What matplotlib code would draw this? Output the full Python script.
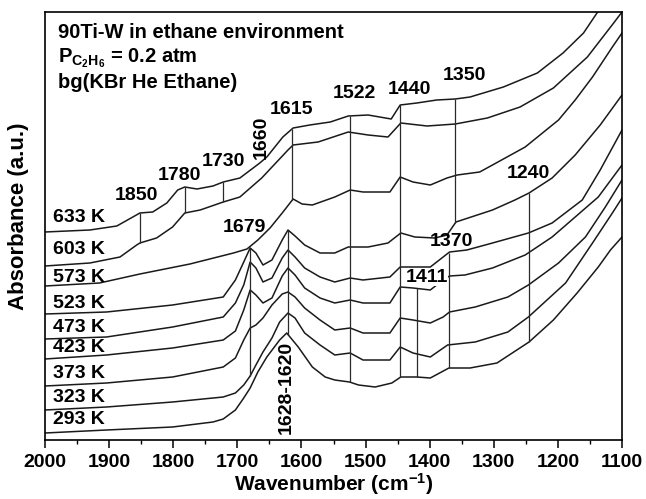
import numpy as np
import matplotlib
matplotlib.use("Agg")
import matplotlib.pyplot as plt

plt.rcParams['font.family'] = ['Liberation Sans', 'DejaVu Sans']
plt.rcParams['font.weight'] = 'bold'
plt.rcParams['mathtext.fontset'] = 'custom'
plt.rcParams['mathtext.rm'] = 'Liberation Sans:bold'
plt.rcParams['mathtext.it'] = 'Liberation Sans:bold'
plt.rcParams['mathtext.bf'] = 'Liberation Sans:bold'

# ---------------- data ----------------
temps = ["293 K", "323 K", "373 K", "423 K", "473 K", "523 K", "573 K", "603 K", "633 K"]

wn_293 = [2000, 1904, 1801, 1738, 1722, 1703, 1690, 1680, 1668, 1654, 1634, 1623, 1605, 1583, 1563, 1548,
          1525, 1511, 1485, 1459, 1445, 1420, 1399, 1370, 1337, 1295, 1245, 1207, 1170, 1137, 1118, 1100]
ab_293 = [0.07, 0.10, 0.13, 0.18, 0.21, 0.30, 0.42, 0.52, 0.68, 0.83, 1.00, 1.07, 0.93, 0.73, 0.63, 0.60,
          0.58, 0.55, 0.53, 0.57, 0.63, 0.63, 0.62, 0.72, 0.72, 0.77, 0.98, 1.20, 1.47, 1.73, 1.90, 2.03]

wn_323 = [2000, 1904, 1801, 1722, 1703, 1690, 1680, 1671, 1660, 1646, 1634, 1621, 1610, 1595, 1571, 1548,
          1524, 1504, 1462, 1446, 1426, 1399, 1372, 1329, 1278, 1246, 1188, 1146, 1115, 1100]
ab_323 = [0.30, 0.33, 0.38, 0.43, 0.47, 0.55, 0.64, 0.75, 0.88, 1.02, 1.18, 1.27, 1.22, 1.07, 0.95, 0.85,
          0.87, 0.80, 0.80, 0.93, 0.87, 0.83, 0.95, 0.98, 1.08, 1.23, 1.57, 1.97, 2.27, 2.42]

wn_373 = [2000, 1904, 1801, 1722, 1703, 1690, 1680, 1671, 1660, 1646, 1630, 1621, 1610, 1595, 1571, 1548,
          1524, 1504, 1462, 1446, 1426, 1399, 1379, 1369, 1329, 1278, 1246, 1199, 1157, 1126, 1100]
ab_373 = [0.54, 0.57, 0.63, 0.73, 0.82, 1.00, 1.12, 1.15, 1.22, 1.35, 1.46, 1.48, 1.43, 1.32, 1.20, 1.10,
          1.12, 1.07, 1.07, 1.22, 1.20, 1.17, 1.23, 1.28, 1.33, 1.43, 1.55, 1.77, 2.03, 2.33, 2.60]

wn_423 = [2000, 1904, 1801, 1722, 1703, 1690, 1680, 1671, 1660, 1646, 1630, 1621, 1610, 1595, 1571, 1548,
          1524, 1504, 1462, 1446, 1426, 1399, 1379, 1369, 1345, 1302, 1251, 1209, 1173, 1137, 1100]
ab_423 = [0.81, 0.85, 0.92, 1.00, 1.09, 1.30, 1.50, 1.45, 1.37, 1.42, 1.64, 1.72, 1.65, 1.52, 1.42, 1.37,
          1.40, 1.37, 1.37, 1.53, 1.52, 1.50, 1.60, 1.64, 1.65, 1.72, 1.85, 2.03, 2.23, 2.43, 2.75]

wn_473 = [2000, 1904, 1801, 1722, 1703, 1690, 1680, 1671, 1660, 1646, 1630, 1621, 1610, 1595, 1571, 1548,
          1524, 1504, 1462, 1446, 1426, 1399, 1379, 1369, 1342, 1302, 1246, 1209, 1162, 1134, 1100]
ab_473 = [1.01, 1.03, 1.13, 1.23, 1.37, 1.55, 1.78, 1.72, 1.58, 1.62, 1.82, 1.90, 1.83, 1.72, 1.63, 1.58,
          1.62, 1.60, 1.63, 1.73, 1.73, 1.73, 1.83, 1.88, 1.90, 1.97, 2.07, 2.17, 2.40, 2.70, 3.10]

wn_523 = [2000, 1904, 1801, 1722, 1703, 1690, 1680, 1671, 1660, 1646, 1630, 1621, 1610, 1595, 1571, 1548,
          1527, 1496, 1465, 1445, 1423, 1392, 1373, 1359, 1302, 1267, 1245, 1209, 1173, 1134, 1100]
ab_523 = [1.26, 1.28, 1.35, 1.43, 1.60, 1.78, 1.92, 1.87, 1.75, 1.80, 2.00, 2.10, 2.04, 1.95, 1.87, 1.87,
          1.93, 1.93, 1.97, 2.07, 2.03, 2.02, 2.05, 2.18, 2.30, 2.40, 2.47, 2.62, 2.85, 3.15, 3.45]

wn_573 = [2000, 1915, 1852, 1774, 1706, 1685, 1668, 1649, 1630, 1613, 1599, 1583, 1548, 1524, 1504, 1462,
          1446, 1426, 1399, 1373, 1357, 1322, 1302, 1251, 1199, 1173, 1146, 1115, 1100]
ab_573 = [1.54, 1.57, 1.66, 1.76, 1.87, 1.91, 2.00, 2.12, 2.27, 2.41, 2.36, 2.35, 2.43, 2.50, 2.48, 2.48,
          2.63, 2.58, 2.55, 2.62, 2.65, 2.68, 2.75, 2.93, 3.20, 3.40, 3.63, 3.93, 4.07]

wn_603 = [2000, 1930, 1883, 1857, 1852, 1826, 1801, 1782, 1758, 1722, 1696, 1662, 1621, 1613, 1574, 1527,
          1496, 1465, 1445, 1404, 1360, 1310, 1259, 1207, 1154, 1113, 1100]
ab_603 = [1.74, 1.77, 1.83, 1.95, 1.97, 2.02, 2.13, 2.27, 2.30, 2.38, 2.43, 2.62, 2.90, 2.95, 2.98, 3.08,
          3.05, 3.03, 3.17, 3.14, 3.16, 3.22, 3.33, 3.52, 3.83, 4.17, 4.28]

wn_633 = [2000, 1930, 1888, 1863, 1852, 1832, 1810, 1793, 1782, 1763, 1738, 1722, 1696, 1665, 1654, 1629,
          1613, 1587, 1555, 1527, 1496, 1460, 1446, 1420, 1389, 1360, 1337, 1285, 1232, 1192, 1160, 1138, 1120]
ab_633 = [2.08, 2.10, 2.14, 2.23, 2.27, 2.28, 2.37, 2.50, 2.53, 2.51, 2.54, 2.58, 2.62, 2.77, 2.83, 3.03,
          3.12, 3.15, 3.18, 3.24, 3.25, 3.21, 3.35, 3.37, 3.40, 3.41, 3.43, 3.53, 3.67, 3.87, 4.07, 4.28, 4.45]

curves_wn = [wn_293, wn_323, wn_373, wn_423, wn_473, wn_523, wn_573, wn_603, wn_633]
curves_ab = [ab_293, ab_323, ab_373, ab_423, ab_473, ab_523, ab_573, ab_603, ab_633]

# marker lines: position, upper curve index, lower curve index
mark_pos = [1852, 1782, 1722, 1614, 1525, 1446, 1360, 1245, 1680, 1621, 1420, 1370]
mark_top = [8, 8, 8, 8, 8, 8, 8, 5, 5, 5, 3, 4]
mark_bot = [7, 7, 7, 6, 0, 0, 5, 0, 1, 0, 0, 0]

peak_text = ["1850", "1780", "1730", "1660", "1615", "1522", "1440", "1350", "1240",
             "1679", "1370", "1411", "1628-1620"]
peak_x = [1858, 1791, 1722, 1663, 1615, 1518, 1432, 1346, 1246, 1689, 1366, 1405, 1623]
peak_y = [2.44, 2.64, 2.78, 3.03, 3.31, 3.46, 3.51, 3.64, 2.66, 2.12, 1.98, 1.63, 0.53]
peak_rot = [0, 0, 0, 90, 0, 0, 0, 0, 0, 0, 0, 0, 90]

temp_label_y = [0.20, 0.42, 0.67, 0.93, 1.12, 1.37, 1.63, 1.90, 2.22]

x_ticks = [2000, 1900, 1800, 1700, 1600, 1500, 1400, 1300, 1200, 1100]

# ---------------- figure ----------------
fig = plt.figure(figsize=(6.46, 4.99), dpi=100)
ax = fig.add_axes([45 / 646, 59 / 499, 577 / 646, 428 / 499])

line_col = '#1a1a1a'
for wn, ab in zip(curves_wn, curves_ab):
    ax.plot(wn, ab, color=line_col, lw=1.1, solid_joinstyle='round')

for pos, it, ib in zip(mark_pos, mark_top, mark_bot):
    yt = np.interp(pos, curves_wn[it][::-1], curves_ab[it][::-1])
    yb = np.interp(pos, curves_wn[ib][::-1], curves_ab[ib][::-1])
    ax.vlines(pos, yb, yt, color='#2a2a2a', lw=0.9)

FS = 14
for txt, x, y, r in zip(peak_text, peak_x, peak_y, peak_rot):
    kw = {}
    if txt == "1411":
        kw['bbox'] = dict(facecolor='white', edgecolor='none', pad=0.5)
    ax.text(x, y, txt, fontsize=FS, fontweight='bold', rotation=r,
            ha='center', va='center', **kw)

for t, y in zip(temps, temp_label_y):
    ax.text(1988, y, t, fontsize=FS, fontweight='bold', ha='left', va='center')

ax.text(1980, 4.07, "90Ti-W in ethane environment", fontsize=14.5, fontweight='bold',
        ha='left', va='center')
ax.text(1980, 3.82, r"P$_{\mathrm{C_2H_6}}$ = 0.2 atm", fontsize=14.5, fontweight='bold',
        ha='left', va='center')
ax.text(1980, 3.58, "bg(KBr He Ethane)", fontsize=14.5, fontweight='bold',
        ha='left', va='center')

ax.set_xlim(2000, 1100)
ax.set_ylim(0, 4.28)
ax.set_xticks(x_ticks)
ax.set_xticks(np.arange(1150, 2000, 100), minor=True)
ax.set_xticklabels([str(v) for v in x_ticks], fontsize=FS, fontweight='bold')
ax.set_yticks([])
ax.tick_params(axis='x', which='major', direction='out', length=6, width=1.1, pad=4)
ax.tick_params(axis='x', which='minor', direction='out', length=3, width=1.0)
for s in ax.spines.values():
    s.set_linewidth(1.2)

ax.set_xlabel(r"Wavenumber (cm$^{\mathrm{-1}}$)", fontsize=15, fontweight='bold')
ax.xaxis.label.set_va('center')
ax.xaxis.set_label_coords(0.5, -0.103)
ax.set_ylabel("Absorbance (a.u.)", fontsize=16, fontweight='bold')
ax.yaxis.label.set_va('center')
ax.yaxis.set_label_coords(-0.0456, 0.523)

fig.savefig("out.png", dpi=100)
